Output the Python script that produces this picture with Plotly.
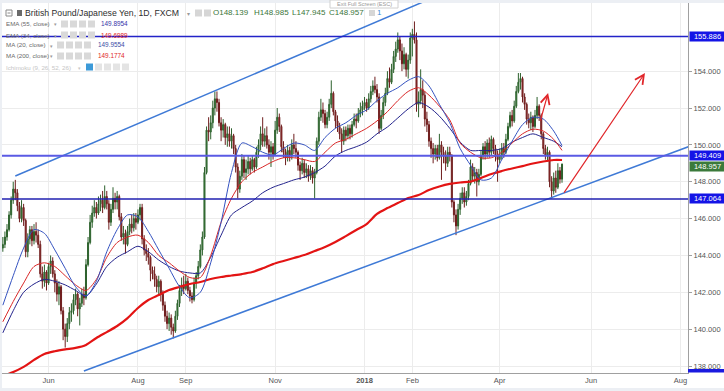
import pandas as pd
import plotly.graph_objects as go

# ---------------- data ----------------
first_open = 144.4
closes = [
    # May 2017
    144.6,145.0,145.4,146.2,147.0,147.6,147.4,146.7,146.0,146.6,145.9,144.2,144.9,145.4,144.8,145.3,145.1,144.6,143.0,142.6,143.1,142.5,
    # Jun 2017
    143.4,143.7,143.0,142.5,141.9,142.3,141.0,140.0,139.6,140.3,140.9,141.0,141.6,141.9,141.1,141.4,141.9,141.7,143.5,144.7,145.8,146.3,
    # Jul 2017
    146.6,146.3,146.8,147.0,146.6,147.2,146.8,145.8,146.5,147.1,146.9,147.2,146.1,145.0,145.2,144.6,145.3,145.7,145.5,146.0,145.8,
    # Aug 2017
    146.2,146.6,144.9,144.3,144.1,143.9,143.2,143.0,142.7,142.3,142.6,141.9,141.3,140.7,140.3,140.6,140.1,139.9,140.7,141.4,142.1,142.4,142.2,
    # Sep 2017
    142.6,142.1,141.8,141.6,142.5,142.9,143.4,144.3,145.0,148.5,150.8,150.7,151.2,152.0,152.5,152.3,151.2,150.8,151.1,150.4,150.6,
    # Oct 2017
    150.2,150.5,149.8,148.8,147.6,148.3,149.2,148.5,148.7,149.1,148.7,149.2,148.8,149.6,150.0,150.6,150.2,150.5,150.0,149.6,149.9,149.5,
    # Nov 2017
    150.8,151.5,151.0,149.9,149.6,149.3,149.7,149.4,150.0,149.8,149.6,148.9,148.6,149.0,148.5,148.7,148.3,148.6,148.2,148.5,150.2,151.5,
    # Dec 2017
    151.9,151.7,151.1,151.5,152.2,152.8,151.8,151.3,151.0,150.6,150.2,150.8,150.5,150.9,150.6,151.1,151.4,151.3,151.7,151.9,152.1,
    # Jan 2018
    152.3,152.0,152.5,152.9,153.2,153.0,152.6,150.9,151.6,152.3,152.8,153.6,153.4,154.1,154.8,155.2,155.7,155.1,154.4,154.9,154.1,154.6,155.8,
    # Feb 2018
    156.0,155.7,152.2,152.4,153.0,152.7,151.4,151.1,150.2,149.8,149.5,149.8,149.3,150.0,149.6,149.4,149.0,149.6,149.4,146.9,
    # Mar 2018
    146.2,145.6,146.5,147.1,147.4,146.9,147.2,147.9,148.8,148.3,148.5,148.0,148.4,149.4,149.9,149.5,150.1,149.6,150.3,149.8,149.4,149.2,
    # Apr 2018
    149.4,149.8,149.6,150.3,151.0,151.6,151.3,152.1,152.9,153.4,153.6,152.6,152.2,151.4,151.2,151.5,151.0,151.6,152.1,151.6,150.6,
    # May 2018
    149.8,149.4,149.6,148.0,147.5,148.2,147.7,148.6,148.139,148.957,
]
highs = [
    145.0,145.3,145.7,146.4,147.2,148.0,148.1,147.6,146.9,147.0,146.8,146.0,145.2,145.6,145.6,145.7,145.8,145.4,144.8,143.4,143.5,143.2,
    143.6,144.0,143.9,143.2,142.7,142.6,142.4,141.2,140.3,140.6,141.2,141.4,141.9,142.2,142.0,141.7,142.2,142.3,143.8,145.0,146.2,146.7,
    147.0,146.9,147.2,147.3,147.5,147.8,147.5,147.0,146.8,147.7,147.4,147.5,147.3,146.3,145.6,145.4,145.6,146.0,146.2,146.3,146.3,
    146.5,146.8,146.8,145.1,144.6,144.4,144.0,143.4,143.4,142.9,142.9,142.7,142.1,141.5,141.0,140.9,140.8,140.3,141.0,141.6,142.4,142.8,142.9,
    143.0,142.8,142.3,142.0,142.8,143.1,143.7,144.6,145.3,148.8,151.0,151.5,151.6,152.4,152.9,152.9,152.5,151.5,151.4,151.2,151.0,
    151.0,150.9,150.6,150.0,149.0,148.6,149.5,149.4,149.2,149.4,149.3,149.4,149.3,149.9,150.3,151.0,151.5,150.9,151.0,150.3,150.2,150.1,
    151.3,152.0,151.7,151.1,150.2,149.8,150.0,149.9,150.3,150.6,150.2,149.7,149.1,149.3,149.2,149.0,148.9,148.9,148.8,148.7,150.4,151.8,
    152.5,152.3,151.9,151.8,152.5,153.5,152.9,151.9,151.6,151.2,150.9,151.0,151.0,151.1,151.1,151.3,151.7,151.7,152.0,152.3,152.4,
    152.6,152.5,152.8,153.2,153.5,153.7,153.3,152.8,151.9,152.6,153.1,154.0,154.2,154.4,155.1,155.6,156.1,155.9,155.5,155.3,155.0,154.9,156.1,
    156.3,156.7,156.1,152.9,154.1,153.5,152.9,151.8,151.3,150.4,150.1,150.0,150.0,150.6,150.2,149.9,149.7,149.9,149.9,149.5,
    147.0,146.5,146.8,147.4,147.7,147.7,147.5,148.1,149.2,149.0,148.8,148.7,148.7,149.7,150.1,150.2,150.3,150.4,150.5,150.4,150.0,149.7,
    149.8,150.1,150.1,150.6,151.2,151.8,151.9,152.4,153.2,153.9,153.9,153.7,152.8,152.3,151.7,151.8,151.6,151.9,152.6,152.2,151.7,
    150.7,150.0,149.9,149.7,148.3,148.5,148.6,149.0,148.8,148.985,
]
lows = [
    144.2,144.4,144.8,145.3,146.0,146.8,147.0,146.4,145.8,145.8,145.6,143.9,143.9,144.6,144.5,144.6,144.7,144.4,142.8,142.2,142.3,142.1,
    142.4,143.0,142.8,142.0,141.5,141.3,140.8,139.4,139.0,139.3,140.0,140.4,140.8,141.3,140.7,140.2,141.2,141.3,141.6,143.4,144.6,145.5,
    146.1,146.0,146.2,146.4,146.3,146.5,146.5,145.4,145.6,146.3,146.5,146.5,145.9,144.8,144.6,144.1,144.5,145.1,145.2,145.3,145.4,
    145.7,145.9,144.6,144.0,143.7,143.5,142.6,142.7,142.3,142.0,141.8,141.5,141.0,140.4,140.0,139.9,139.7,139.5,139.8,140.5,141.2,141.8,141.9,
    142.1,141.9,141.5,141.4,141.5,142.2,142.7,143.3,144.0,144.9,148.4,150.2,150.3,150.9,151.6,151.8,151.0,150.2,150.4,150.0,149.9,
    149.9,149.8,149.5,148.5,147.1,147.4,148.1,148.2,148.1,148.4,148.4,148.6,148.5,148.7,149.3,149.7,149.9,149.9,149.8,149.2,148.8,149.2,
    149.4,150.6,150.7,149.6,149.3,148.9,149.1,149.1,149.2,149.5,149.3,148.6,148.1,148.4,148.2,148.2,148.0,148.1,147.9,147.1,148.4,150.0,
    151.3,151.2,150.9,150.9,151.3,152.0,151.6,150.9,150.7,150.3,149.6,150.0,150.2,150.3,150.3,150.4,151.0,150.9,151.2,151.5,151.6,
    151.9,151.8,151.9,152.3,152.7,152.8,152.3,150.6,150.8,151.4,152.1,152.7,153.1,153.3,153.9,154.5,155.0,154.6,154.0,154.1,153.7,153.6,154.4,
    154.8,155.5,151.8,151.5,152.2,152.0,151.0,150.7,149.9,149.3,149.0,149.2,149.1,149.2,148.1,149.0,148.6,148.8,149.1,146.6,
    145.8,145.1,145.4,146.2,146.8,146.6,146.7,147.0,147.8,148.0,147.9,147.2,147.8,148.3,149.2,149.2,149.3,149.3,149.4,149.5,149.1,148.0,
    149.0,149.2,149.3,149.5,150.2,150.9,151.0,151.2,152.0,152.8,153.0,152.3,151.9,151.1,150.9,150.8,150.7,150.9,151.4,151.3,150.3,
    149.5,149.2,149.1,147.7,147.1,147.3,147.4,147.6,147.9,147.945,
]
dates = pd.bdate_range("2017-05-02", "2018-05-14")
assert len(closes) == len(highs) == len(lows) == len(dates), (len(closes), len(highs), len(lows), len(dates))
opens = [first_open] + closes[:-1]

# indicator lines, one value per week (+ last bar)
ma_dates = list(dates[::5]) + [dates[-1]]
ma20 = [141.3,142.9,144.4,145.4,145.2,144.3,143.3,142.3,141.8,142.6,
        144.2,145.4,146.2,146.1,145.3,144.3,143.3,142.3,141.7,142.0,
        143.6,145.8,148.5,150.1,149.9,149.6,149.45,149.8,150.1,150.0,
        149.7,150.4,150.9,151.2,151.6,151.9,152.4,152.8,153.1,153.5,
        153.7,153.2,152.2,151.2,149.8,148.9,148.1,148.2,149.2,150.2,
        151.1,151.5,151.4,150.75,149.96]
ema34 = [140.4,141.5,142.5,143.4,143.6,143.4,142.9,142.4,142.1,142.7,
         143.9,144.7,145.0,145.1,144.7,144.0,143.6,143.15,142.8,142.8,
         144.0,145.8,147.1,148.0,148.5,148.8,149.1,149.3,149.3,149.2,
         149.1,149.6,150.1,150.3,150.6,150.9,151.3,151.8,152.4,152.9,
         153.1,152.7,152.1,151.35,150.1,149.6,149.3,149.3,149.6,150.1,
         150.6,150.85,150.75,150.3,149.7]
ema55 = [139.8,141.0,142.0,142.45,142.7,142.6,142.4,142.1,141.8,142.45,
         143.4,143.9,144.2,144.5,144.2,143.75,143.4,143.15,143.05,143.05,
         143.9,145.1,146.2,146.6,146.95,147.4,147.7,147.9,148.1,148.25,
         148.5,148.85,149.4,149.7,149.9,150.15,150.6,150.97,151.46,151.95,
         152.3,152.05,151.56,150.9,150.15,149.7,149.7,149.7,149.8,150.15,
         150.4,150.6,150.4,150.2,149.9]
ma200 = [137.46,137.67,137.95,138.33,138.65,138.8,138.9,138.98,139.14,139.52,
         139.84,140.17,140.6,141.15,141.58,141.85,142.12,142.29,142.45,142.56,
         142.72,142.83,142.91,142.99,143.1,143.3,143.53,143.7,143.86,144.02,
         144.24,144.46,144.73,145.05,145.38,145.7,146.25,146.57,146.84,147.12,
         147.28,147.55,147.74,147.88,147.96,148.01,148.2,148.42,148.58,148.72,
         148.85,148.99,149.1,149.18,149.18]
for s in (ma20, ema34, ema55, ma200):
    assert len(s) == len(ma_dates)

legend_rows = ["EMA (55, close)", "EMA (34, close)", "MA (20, close)", "MA (200, close)"]
legend_vals = ["149.8954", "149.6989", "149.9554", "149.1774"]
ohlc_labels = ["O148.139", "H148.985", "L147.945", "C148.957"]

levels = [155.886, 149.409, 147.064]

channel_upper_x = ["2017-05-10", "2018-02-08"]
channel_upper_y = [148.31, 157.75]
channel_lower_x = ["2017-06-26", "2018-08-09"]
channel_lower_y = [137.73, 149.99]
arrow_small = [("2018-04-27 09:36", 151.24), ("2018-05-03 07:12", 152.81)]
arrow_big = [("2018-05-14 12:00", 147.33), ("2018-07-06 21:36", 153.9)]

tick_dates = ["2017-06-01", "2017-08-01", "2017-09-01", "2017-11-01", "2018-01-01",
              "2018-02-01", "2018-04-02", "2018-06-01", "2018-08-01"]
tick_text = ["Jun", "Aug", "Sep", "Nov", "<b>2018</b>", "Feb", "Apr", "Jun", "Aug"]
price_ticks = [138, 140, 142, 144, 146, 148, 150, 152, 154]

# ---------------- figure ----------------
FONT = "Liberation Sans"
W, H = 724, 391
ML, MR, MT, MB = 2, 36, 3, 18
PW, PH = W - ML - MR, H - MT - MB


def px(x):
    return (x - ML) / PW


def py(y):
    return (H - MB - y) / PH


fig = go.Figure()

fig.add_trace(go.Candlestick(
    x=dates, open=opens, high=highs, low=lows, close=closes,
    increasing=dict(line=dict(color="#2d612d", width=1), fillcolor="#3f8a3f"),
    decreasing=dict(line=dict(color="#6e1d1d", width=1), fillcolor="#a93333"),
    whiskerwidth=0, showlegend=False, hoverinfo="skip"))

fig.add_trace(go.Scatter(x=ma_dates, y=ma200, mode="lines",
                         line=dict(color="#e31414", width=2.2, shape="spline", smoothing=0.8),
                         hoverinfo="skip", showlegend=False))
fig.add_trace(go.Scatter(x=ma_dates, y=ema55, mode="lines",
                         line=dict(color="#23238c", width=1, shape="spline", smoothing=0.8),
                         hoverinfo="skip", showlegend=False))
fig.add_trace(go.Scatter(x=ma_dates, y=ema34, mode="lines",
                         line=dict(color="#d92626", width=1, shape="spline", smoothing=0.8),
                         hoverinfo="skip", showlegend=False))
fig.add_trace(go.Scatter(x=ma_dates, y=ma20, mode="lines",
                         line=dict(color="#3452c0", width=1, shape="spline", smoothing=0.8),
                         hoverinfo="skip", showlegend=False))

# channel lines
for cx, cy in ((channel_upper_x, channel_upper_y), (channel_lower_x, channel_lower_y)):
    fig.add_trace(go.Scatter(x=cx, y=cy, mode="lines", line=dict(color="#3f7ad6", width=1.5),
                             hoverinfo="skip", showlegend=False))

shapes = []
level_style = {155.886: ("#2323c8", 1.4), 149.409: ("#5a5ae4", 2.2), 147.064: ("#2020b0", 1.4)}
for lv in levels:
    col, wd = level_style[lv]
    shapes.append(dict(type="line", xref="paper", yref="y", x0=0, x1=1, y0=lv, y1=lv,
                       line=dict(color=col, width=wd), layer="above"))

# frame strips
shapes.append(dict(type="rect", xref="paper", yref="paper", x0=px(0), x1=px(W), y0=py(0), y1=py(3),
                   fillcolor="#eceff4", line_width=0, layer="above"))
shapes.append(dict(type="rect", xref="paper", yref="paper", x0=px(0), x1=px(2), y0=py(0), y1=py(H),
                   fillcolor="#eceff4", line_width=0, layer="above"))
shapes.append(dict(type="rect", xref="paper", yref="paper", x0=px(0), x1=px(W), y0=py(388), y1=py(H),
                   fillcolor="#eceff4", line_width=0, layer="above"))
# blue marker at bottom of price scale
shapes.append(dict(type="rect", xref="paper", yref="paper", x0=px(688), x1=px(724), y0=py(372.5), y1=py(369),
                   fillcolor="#1a1ae0", line_width=0, layer="above"))

annotations = []


def icon(x, y, color="#d6d6d6", w=7, h=7):
    shapes.append(dict(type="rect", xref="paper", yref="paper", x0=px(x), x1=px(x + w),
                       y0=py(y + h / 2), y1=py(y - h / 2), fillcolor=color, line_width=0, layer="above"))


def text(x, y, s, size=6.5, color="#666", anchor="left"):
    annotations.append(dict(xref="paper", yref="paper", x=px(x), y=py(y), text=s, showarrow=False,
                            xanchor=anchor, yanchor="middle", borderpad=0,
                            font=dict(family=FONT, size=size, color=color)))


# header line
shapes.append(dict(type="rect", xref="paper", yref="paper", x0=px(6), x1=px(12), y0=py(16), y1=py(10),
                   fillcolor="white", line=dict(color="#8a8a8a", width=1), layer="above"))
shapes.append(dict(type="line", xref="paper", yref="paper", x0=px(7.5), x1=px(10.5), y0=py(13), y1=py(13),
                   line=dict(color="#8a8a8a", width=1), layer="above"))
icon(17, 13, "#6a6a6a", 5, 6)
text(24, 13, "British Pound/Japanese Yen, 1D, FXCM", 8.7, "#2e2e2e")
text(186, 13.5, "▾", 6, "#9a9a9a")
icon(195, 13)
icon(204, 13)
ohlc_x = [212, 253, 291, 328]
for xx, s in zip(ohlc_x, ohlc_labels):
    text(xx, 13, s, 8, "#3b763b")
icon(369, 13, "#d6d6d6", 6, 6)
text(376, 13, "1", 8, "#3b8fd6")

# indicator rows
row_y = [24, 35, 45, 56]
val_colors = ["#3434a8", "#e02828", "#3a4ea6", "#e02828"]
for i, (lab, val) in enumerate(zip(legend_rows, legend_vals)):
    yy = row_y[i]
    short = lab.startswith("MA (20")
    text(5, yy, lab, 6.2, "#6a6a6a")
    text(49 if short else 52.5, yy + 0.5, "▾", 5, "#9a9a9a")
    x0 = 57 if short else 61
    for j in range(4):
        icon(x0 + j * 9, yy, "#d9d9d9", 7, 7)
    text(97 if short else 100, yy, val, 6.4, val_colors[i])

text(5, 67, "Ichimoku (9, 26, 52, 26)", 6.2, "#c6c6c6")
text(77, 67.5, "▾", 5, "#c6c6c6")
icon(86, 67, "#3c9ad8", 7, 7)
for j in range(1, 5):
    icon(86 + j * 9, 67, "#e4e4e4", 7, 7)

# exit full screen tooltip
shapes.append(dict(type="rect", xref="paper", yref="paper", x0=px(330), x1=px(398), y0=py(8), y1=py(0),
                   fillcolor="white", line=dict(color="#d0d0d0", width=1), layer="above"))
text(364, 4, "Exit Full Screen (ESC)", 5.5, "#9a9a9a", "center")

# price-scale labels
label_boxes = [(levels[0], "#1414e6", 0), (levels[1], "#1414e6", 0), (levels[2], "#1414e6", 0),
               (closes[-1], "#3b7a3b", -2.5)]
for val, col, shift in label_boxes:
    annotations.append(dict(xref="paper", yref="y", x=1, y=val, xanchor="left", yanchor="middle",
                            text=f"{val:.3f}", showarrow=False, bgcolor=col, width=35, height=9,
                            borderpad=0, yshift=shift, xshift=0.5,
                            font=dict(family=FONT, size=7.5, color="white")))

# arrows
for (sx, sy), (ex, ey) in (arrow_small, arrow_big):
    annotations.append(dict(x=ex, y=ey, ax=sx, ay=sy, xref="x", yref="y", axref="x", ayref="y",
                            text="", showarrow=True, arrowhead=5, arrowsize=1.5, arrowwidth=1.2,
                            arrowcolor="#e0262a", standoff=0))

fig.update_layout(
    width=W, height=H, margin=dict(l=ML, r=MR, t=MT, b=MB),
    paper_bgcolor="white", plot_bgcolor="white", showlegend=False,
    shapes=shapes, annotations=annotations,
    xaxis=dict(type="date", range=["2017-05-01 14:24", "2018-08-06 14:24"],
               rangebreaks=[dict(bounds=["sat", "mon"])],
               tickvals=tick_dates, ticktext=tick_text, tickangle=0,
               showgrid=True, gridcolor="#ececec", gridwidth=1,
               showline=True, linecolor="#a0a0a0", linewidth=1, ticks="",
               tickfont=dict(family=FONT, size=7.5, color="#555"),
               rangeslider=dict(visible=False), zeroline=False, fixedrange=True),
    yaxis=dict(side="right", range=[137.62, 157.70], tickvals=price_ticks, tickformat=".3f",
               showgrid=True, gridcolor="#ececec", gridwidth=1,
               showline=True, linecolor="#a0a0a0", linewidth=1,
               ticks="outside", ticklen=3, tickcolor="#a0a0a0",
               tickfont=dict(family=FONT, size=7.5, color="#555"),
               zeroline=False, fixedrange=True),
)

fig.write_html("out.html", config={"displayModeBar": False},
               post_script="document.body.style.margin='0';document.body.style.overflow='hidden';")
